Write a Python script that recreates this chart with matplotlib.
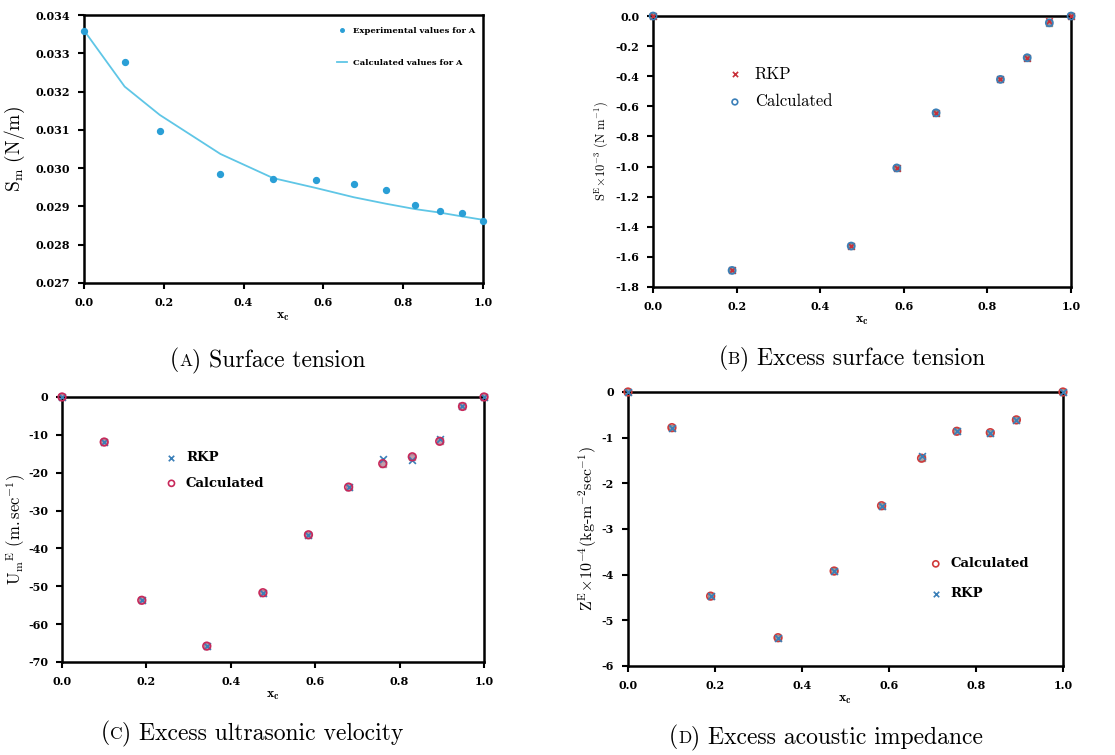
import matplotlib
matplotlib.use("Agg")
import matplotlib.pyplot as plt

plt.rcParams['font.family'] = 'DejaVu Serif'
plt.rcParams['mathtext.fontset'] = 'cm'

# (A) surface tension
xa = [0.0, 0.102, 0.190, 0.342, 0.474, 0.582, 0.676, 0.757, 0.830, 0.891, 0.947, 1.0]
sa_exp = [0.03359, 0.03278, 0.03097, 0.02985, 0.02972, 0.02968, 0.02959, 0.02942, 0.02904, 0.02887, 0.02884, 0.02863]
sa_calc = [0.03360, 0.03213, 0.03139, 0.03037, 0.02974, 0.02948, 0.02924, 0.02907, 0.02893, 0.02884, 0.02874, 0.02865]

# (B) excess surface tension
xb = [0.0, 0.189, 0.474, 0.583, 0.677, 0.831, 0.895, 0.948, 1.0]
sb_rkp = [0.0, -1.69, -1.528, -1.009, -0.643, -0.421, -0.277, -0.03, 0.0]
sb_calc = [0.0, -1.69, -1.528, -1.009, -0.643, -0.421, -0.277, -0.045, 0.0]

# (C) excess ultrasonic velocity
xc = [0.0, 0.100, 0.189, 0.343, 0.476, 0.584, 0.679, 0.760, 0.830, 0.895, 0.949, 1.0]
uc_rkp = [0.0, -11.9, -53.7, -65.8, -51.7, -36.4, -23.8, -16.5, -16.7, -11.0, -2.5, 0.0]
uc_calc = [0.0, -11.9, -53.7, -65.8, -51.7, -36.4, -23.8, -17.6, -15.8, -11.7, -2.5, 0.0]

# (D) excess acoustic impedance
xd = [0.0, 0.101, 0.190, 0.345, 0.474, 0.583, 0.675, 0.756, 0.833, 0.893, 1.0]
zd_rkp = [0.0, -0.78, -4.47, -5.38, -3.92, -2.49, -1.40, -0.86, -0.89, -0.61, 0.0]
zd_calc = [0.0, -0.78, -4.47, -5.38, -3.92, -2.49, -1.45, -0.86, -0.89, -0.61, 0.0]

xticks = [0.0, 0.2, 0.4, 0.6, 0.8, 1.0]

fig = plt.figure(figsize=(11.15, 7.55), dpi=100)
axA = fig.add_axes([0.0753, 0.6252, 0.3579, 0.3549])
axB = fig.add_axes([0.5857, 0.6199, 0.3749, 0.3589])
axC = fig.add_axes([0.0556, 0.1232, 0.3785, 0.3510])
axD = fig.add_axes([0.5632, 0.1179, 0.3901, 0.3629])

for ax in (axA, axB, axC, axD):
    for s in ax.spines.values():
        s.set_linewidth(1.8)
    ax.set_xlim(0, 1.0)
    ax.set_xticks(xticks)
    ax.set_xticklabels(['%.1f' % t for t in xticks], fontweight='bold', fontsize=8)
    ax.tick_params(width=1.5, length=4, labelsize=8, pad=6)
    ax.set_xlabel(r'$\mathbf{x_c}$', fontsize=10, labelpad=1)

# A
axA.plot(xa, sa_calc, color='#5fc6e6', lw=1.3, label='Calculated values for A')
axA.scatter(xa, sa_exp, s=18, color='#2a9fd6', zorder=3, clip_on=False, label='Experimental values for A')
axA.set_ylim(0.027, 0.034)
axA.set_yticks([0.027 + 0.001 * i for i in range(8)])
axA.set_yticklabels(['%.3f' % (0.027 + 0.001 * i) for i in range(8)], fontweight='bold', fontsize=8)
axA.set_ylabel(r'$\mathrm{S_m\ (N/m)}$', fontsize=14, labelpad=6)
h, l = axA.get_legend_handles_labels()
axA.legend([h[1], h[0]], [l[1], l[0]], loc='upper right', bbox_to_anchor=(1.0, 0.985), frameon=False,
           prop={'size': 6, 'weight': 'bold'}, markerscale=0.6, handlelength=1.2,
           labelspacing=2.9)

# B
axB.scatter(xb, sb_calc, marker='s', s=16, color='#444444', alpha=0.55, zorder=2, clip_on=False)
axB.scatter(xb, sb_rkp, marker='x', s=22, color='#c8303a', lw=1.2, zorder=3, clip_on=False, label='RKP')
axB.scatter(xb, sb_calc, marker='o', s=26, facecolors='none', edgecolors='#3a7fb8', lw=1.2, zorder=3,
            clip_on=False, label='Calculated')
axB.set_ylim(-1.8, 0.0)
bt = [-1.8 + 0.2 * i for i in range(10)]
axB.set_yticks(bt)
axB.set_yticklabels(['%.1f' % round(t, 1) if abs(t) > 1e-9 else '0.0' for t in bt], fontweight='bold', fontsize=8)
axB.set_ylabel(r'$\mathrm{S^E\!\times\!10^{-3}\ (N\ m^{-1})}$', fontsize=9, labelpad=4)
axB.legend(loc='upper left', bbox_to_anchor=(0.12, 0.87), frameon=False,
           prop={'family': 'cmr10', 'size': 12}, handletextpad=0.2, labelspacing=0.75,
           markerscale=0.8)

# C
axC.scatter(xc, uc_calc, marker='s', s=16, color='#7a2848', alpha=0.45, zorder=2, clip_on=False)
axC.scatter(xc, uc_rkp, marker='x', s=24, color='#3a7fb8', lw=1.2, zorder=3, clip_on=False, label='RKP')
axC.scatter(xc, uc_calc, marker='o', s=30, facecolors='none', edgecolors='#c8285a', lw=1.2, zorder=3,
            clip_on=False, label='Calculated')
axC.set_ylim(-70, 0)
axC.set_yticks(range(-70, 1, 10))
axC.set_yticklabels([str(v) for v in range(-70, 1, 10)], fontweight='bold', fontsize=8)
axC.set_ylabel(r'$\mathrm{U_m{}^E\ (m.sec^{-1})}$', fontsize=12, labelpad=0)
axC.legend(loc='upper left', bbox_to_anchor=(0.2, 0.84), frameon=False,
           prop={'size': 9.5, 'weight': 'bold'}, handletextpad=0.1, labelspacing=0.95,
           markerscale=0.8)

# D
axD.scatter(xd, zd_calc, marker='s', s=16, color='#444444', alpha=0.45, zorder=2, clip_on=False)
axD.scatter(xd, zd_calc, marker='o', s=30, facecolors='none', edgecolors='#d03a3a', lw=1.2, zorder=3,
            clip_on=False, label='Calculated')
axD.scatter(xd, zd_rkp, marker='x', s=24, color='#3a7fb8', lw=1.2, zorder=3, clip_on=False, label='RKP')
axD.set_ylim(-6, 0)
axD.set_yticks(range(-6, 1))
axD.set_yticklabels([str(v) for v in range(-6, 1)], fontweight='bold', fontsize=8)
axD.set_ylabel(r'$\mathrm{Z^E\!\times\!10^{-4}(kg\text{-}m^{-2}sec^{-1})}$', fontsize=11.5, labelpad=2)
axD.legend(loc='upper left', bbox_to_anchor=(0.65, 0.44), frameon=False,
           prop={'size': 9.5, 'weight': 'bold'}, handletextpad=0.1, labelspacing=1.3,
           markerscale=0.8)

# captions with small-caps panel letter
caps = [(268, 360, 'A', 'Surface tension'),
        (852, 358, 'B', 'Excess surface tension'),
        (252, 733, 'C', 'Excess ultrasonic velocity'),
        (826, 737, 'D', 'Excess acoustic impedance')]
W, H = 1115, 755
pieces = []
for cx, cy, tag, txt in caps:
    t1 = fig.text(0, 1 - cy / H, '(', ha='left', va='center', fontsize=17, family='cmr10')
    t2 = fig.text(0, 0, tag, fontsize=12.5, family='cmr10')
    t3 = fig.text(0, 0, ') ' + txt, fontsize=17, family='cmr10')
    pieces.append((cx, cy, t1, t2, t3))

fig.canvas.draw()
r = fig.canvas.get_renderer()
for cx, cy, t1, t2, t3 in pieces:
    w1 = t1.get_window_extent(r).width
    w2 = t2.get_window_extent(r).width
    w3 = t3.get_window_extent(r).width
    x0 = cx - (w1 + w2 + w3) / 2
    base = 1 - (cy + 6) / H
    t1.set_position((x0 / W, base))
    t1.set_va('baseline')
    t2.set_position(((x0 + w1) / W, base))
    t3.set_position(((x0 + w1 + w2) / W, base))

fig.savefig('out.png', dpi=100)
